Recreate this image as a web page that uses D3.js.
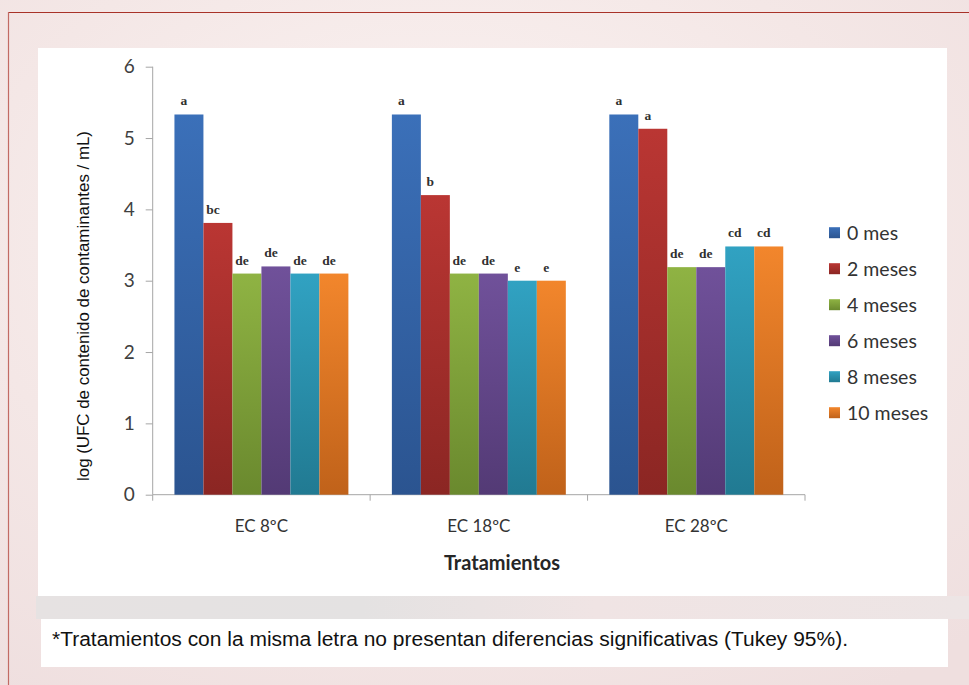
<!DOCTYPE html>
<html>
<head>
<meta charset="utf-8">
<script src="https://cdn.jsdelivr.net/npm/d3@7"></script>
<style>
html,body{margin:0;padding:0;overflow:hidden;}
body{width:969px;height:685px;}
svg{display:block;}
</style>
</head>
<body>
<svg id="chart" width="969" height="685"></svg>
<script>
// ---- data ----
const categories = ["EC 8ºC", "EC 18ºC", "EC 28ºC"];
const seriesNames = ["0 mes", "2 meses", "4 meses", "6 meses", "8 meses", "10 meses"];
const values0  = [5.33, 5.33, 5.33];
const values2  = [3.81, 4.20, 5.13];
const values4  = [3.10, 3.10, 3.19];
const values6  = [3.20, 3.10, 3.19];
const values8  = [3.10, 3.00, 3.48];
const values10 = [3.10, 3.00, 3.48];
const letters0  = ["a", "a", "a"];
const letters2  = ["bc", "b", "a"];
const letters4  = ["de", "de", "de"];
const letters6  = ["de", "de", "de"];
const letters8  = ["de", "e", "cd"];
const letters10 = ["de", "e", "cd"];
const yTicks = [0, 1, 2, 3, 4, 5, 6];
const yTitle = "log (UFC de contenido de contaminantes / mL)";
const xTitle = "Tratamientos";
const footnote = "*Tratamientos con la misma letra no presentan diferencias significativas (Tukey 95%).";

const seriesValues = [values0, values2, values4, values6, values8, values10];
const seriesLetters = [letters0, letters2, letters4, letters6, letters8, letters10];
const colorsTop = ["#3b70b9", "#ba3633", "#8fb343", "#70519a", "#31a2c2", "#f2862c"];
const colorsBot = ["#2b5490", "#8b2623", "#6a892e", "#533a75", "#217a92", "#c0621a"];

// ---- layout ----
const svg = d3.select("#chart");
const W = 969, H = 685;
const defs = svg.append("defs");

// background
const bg = defs.append("radialGradient").attr("id", "bgGrad")
  .attr("cx", "0.45").attr("cy", "0.35").attr("r", "0.8");
bg.append("stop").attr("offset", "0").attr("stop-color", "#fbf4f3");
bg.append("stop").attr("offset", "0.6").attr("stop-color", "#f4e7e6");
bg.append("stop").attr("offset", "1").attr("stop-color", "#efdfdf");
svg.append("rect").attr("width", W).attr("height", H).attr("fill", "url(#bgGrad)");

// gray band under the panel
const band = defs.append("linearGradient").attr("id", "bandGrad").attr("x1", 0).attr("x2", 1).attr("y1", 0).attr("y2", 0);
band.append("stop").attr("offset", "0").attr("stop-color", "#e6e2e2");
band.append("stop").attr("offset", "0.35").attr("stop-color", "#e4e2e2");
band.append("stop").attr("offset", "0.6").attr("stop-color", "#f0e4e4");
band.append("stop").attr("offset", "1").attr("stop-color", "#ede5e5");
svg.append("rect").attr("x", 36).attr("y", 596).attr("width", 933).attr("height", 23).attr("fill", "url(#bandGrad)");

// frame lines (red)
svg.append("line").attr("x1", 8).attr("x2", W).attr("y1", 12.5).attr("y2", 12.5)
  .attr("stroke", "#a83228").attr("stroke-width", 1.2);
svg.append("line").attr("x1", 8.5).attr("x2", 8.5).attr("y1", 12).attr("y2", H)
  .attr("stroke", "#c26a64").attr("stroke-width", 1.2);

// white chart panel
svg.append("rect").attr("x", 38).attr("y", 48).attr("width", 909).attr("height", 548).attr("fill", "#ffffff");

// footnote box
svg.append("rect").attr("x", 41).attr("y", 619).attr("width", 907).attr("height", 48).attr("fill", "#ffffff");
svg.append("text").attr("x", 52).attr("y", 646)
  .attr("font-family", "Liberation Sans, Arial, sans-serif").attr("font-size", 20)
  .attr("textLength", 796).attr("lengthAdjust", "spacingAndGlyphs")
  .attr("fill", "#111").text(footnote);

// plot area
const x0 = 152.7, x1 = 805, yTop = 66.7, yBot = 494.7;
const x = d3.scaleBand().domain(categories).range([x0, x1]).paddingInner(0.2).paddingOuter(0.1);
const xs = d3.scaleBand().domain(d3.range(seriesNames.length)).range([0, x.bandwidth()]);
const y = d3.scaleLinear().domain([0, 6]).range([yBot, yTop]);

seriesNames.forEach((s, i) => {
  const g = defs.append("linearGradient").attr("id", "grad" + i).attr("x1", 0).attr("x2", 0).attr("y1", 0).attr("y2", 1);
  g.append("stop").attr("offset", "0").attr("stop-color", colorsTop[i]);
  g.append("stop").attr("offset", "1").attr("stop-color", colorsBot[i]);
  const gl = defs.append("linearGradient").attr("id", "lgrad" + i).attr("x1", 0).attr("x2", 0).attr("y1", 0).attr("y2", 1);
  gl.append("stop").attr("offset", "0").attr("stop-color", colorsTop[i]);
  gl.append("stop").attr("offset", "1").attr("stop-color", colorsBot[i]);
});

// y axis
const yAxis = d3.axisLeft(y).tickValues(yTicks).tickSize(7).tickPadding(11).tickFormat(d3.format("d"));
const gy = svg.append("g").attr("transform", `translate(${x0},0)`).call(yAxis);
gy.select(".domain").attr("stroke", "#a6a6a6").attr("d", `M0,${yTop}V${yBot}`);
gy.selectAll(".tick line").attr("stroke", "#a6a6a6");
gy.selectAll(".tick text").attr("font-family", "Lato, 'Open Sans', sans-serif").attr("font-size", 19).attr("fill", "#404040");

// x axis
const gx = svg.append("g").attr("transform", `translate(0,${yBot})`);
gx.append("line").attr("x1", x0).attr("x2", x1).attr("y1", 0).attr("y2", 0).attr("stroke", "#a6a6a6");
const boundaries = categories.map(c => x(c) - x.step() * x.paddingInner() / 2).concat([x1]);
gx.selectAll("line.tk").data(boundaries).join("line").attr("class", "tk")
  .attr("x1", d => d).attr("x2", d => d).attr("y1", 0).attr("y2", 6).attr("stroke", "#a6a6a6");
gx.selectAll("text.cat").data(categories).join("text").attr("class", "cat")
  .attr("x", d => x(d) + x.bandwidth() / 2).attr("y", 37)
  .attr("text-anchor", "middle")
  .attr("font-family", "Lato, 'Open Sans', sans-serif").attr("font-size", 17).attr("fill", "#333")
  .text(d => d);

// bars
seriesNames.forEach((s, i) => {
  const gs = svg.append("g");
  gs.selectAll("rect").data(categories).join("rect")
    .attr("x", c => x(c) + xs(i))
    .attr("y", (c, j) => y(seriesValues[i][j]))
    .attr("width", xs.bandwidth())
    .attr("height", (c, j) => yBot - y(seriesValues[i][j]))
    .attr("fill", `url(#grad${i})`);
  gs.selectAll("text").data(categories).join("text")
    .attr("x", c => x(c) + xs(i) + xs.bandwidth() / 2 - 5)
    .attr("y", (c, j) => y(seriesValues[i][j]) - 9)
    .attr("text-anchor", "middle")
    .attr("font-family", "'Liberation Serif', 'Times New Roman', serif")
    .attr("font-size", 13.5).attr("font-weight", "bold").attr("fill", "#303030")
    .text((c, j) => seriesLetters[i][j]);
});

// axis titles
svg.append("text")
  .attr("transform", `translate(89,306) rotate(-90)`)
  .attr("text-anchor", "middle")
  .attr("font-family", "Liberation Sans, Arial, sans-serif").attr("font-size", 16)
  .attr("textLength", 350).attr("lengthAdjust", "spacingAndGlyphs").attr("fill", "#111")
  .text(yTitle);
svg.append("text").attr("x", 502).attr("y", 570).attr("text-anchor", "middle")
  .attr("font-family", "Lato, 'Open Sans', sans-serif").attr("font-size", 20).attr("font-weight", "bold").attr("fill", "#262626")
  .text(xTitle);

// legend
const leg = svg.append("g");
seriesNames.forEach((s, i) => {
  const cy = 232.7 + i * 36;
  leg.append("rect").attr("x", 829).attr("y", cy - 5.5).attr("width", 11).attr("height", 11).attr("fill", `url(#lgrad${i})`);
  leg.append("text").attr("x", 847).attr("y", cy + 7)
    .attr("font-family", "Lato, 'Open Sans', sans-serif").attr("font-size", 19.5).attr("fill", "#333")
    .text(s);
});
</script>
</body>
</html>
